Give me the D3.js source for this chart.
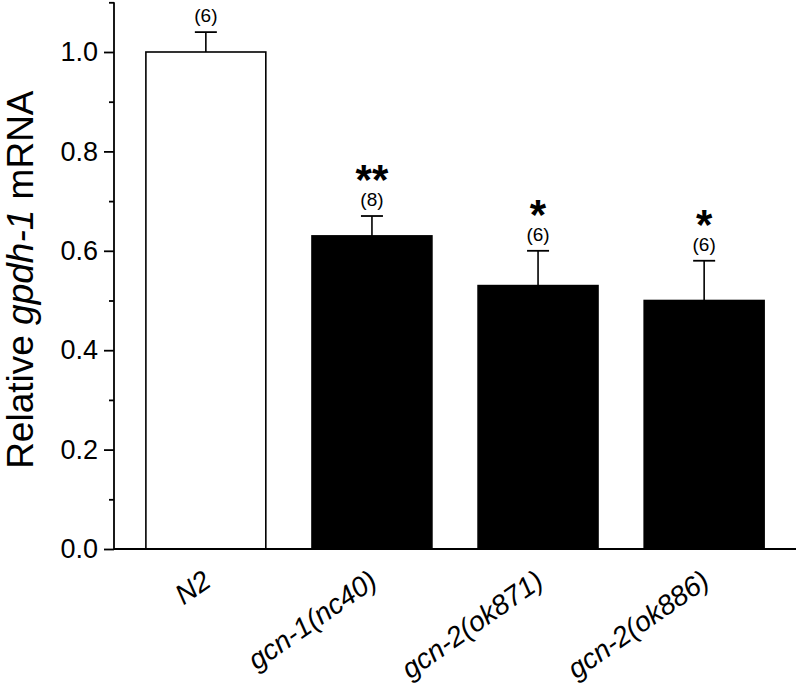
<!DOCTYPE html>
<html>
<head>
<meta charset="utf-8">
<script src="https://cdn.jsdelivr.net/npm/d3@7"></script>
<style>
  html, body { margin: 0; padding: 0; background: #fff; }
  svg { display: block; font-family: "Liberation Sans", Arial, sans-serif; }
</style>
</head>
<body>
<svg id="chart" width="799" height="684"></svg>
<script>
// ---- data ----
const categories = ["N2", "gcn-1(nc40)", "gcn-2(ok871)", "gcn-2(ok886)"];
const values = [1.00, 0.63, 0.53, 0.50];
const errors = [0.04, 0.04, 0.07, 0.08];
const nLabels = ["(6)", "(8)", "(6)", "(6)"];
const stars = ["", "**", "*", "*"];
const fills = ["#ffffff", "#000000", "#000000", "#000000"];
const majorTicks = [0.0, 0.2, 0.4, 0.6, 0.8, 1.0];
const minorTicks = [0.1, 0.3, 0.5, 0.7, 0.9, 1.1];

const svg = d3.select("#chart");
const y = d3.scaleLinear().domain([0, 1.1]).range([549, 2.3]);
const x = d3.scaleBand().domain(categories).range([114, 796])
  .paddingInner(0.278).paddingOuter(0.192);

// bars
svg.selectAll("rect.bar").data(categories).join("rect")
  .attr("class", "bar")
  .attr("x", d => x(d))
  .attr("y", (d, i) => y(values[i]))
  .attr("width", x.bandwidth())
  .attr("height", (d, i) => y(0) - y(values[i]))
  .attr("fill", (d, i) => fills[i])
  .attr("stroke", "#000").attr("stroke-width", 1.6);

// error bars (upper only)
const capW = 22;
categories.forEach((c, i) => {
  const cx = x(c) + x.bandwidth() / 2;
  const top = y(values[i] + errors[i]);
  svg.append("line").attr("x1", cx).attr("x2", cx)
    .attr("y1", y(values[i])).attr("y2", top)
    .attr("stroke", "#000").attr("stroke-width", 1.6);
  svg.append("line").attr("x1", cx - capW / 2).attr("x2", cx + capW / 2)
    .attr("y1", top).attr("y2", top)
    .attr("stroke", "#000").attr("stroke-width", 1.8);
  svg.append("text").attr("x", cx).attr("y", top - 10)
    .attr("text-anchor", "middle").attr("font-size", 19).text(nLabels[i]);
  if (stars[i]) {
    svg.append("text").attr("x", cx).attr("y", top - 22)
      .attr("text-anchor", "middle").attr("font-size", 42).attr("font-weight", "bold")
      .text(stars[i]);
  }
});

// y axis
const yAxis = d3.axisLeft(y).tickValues(majorTicks).tickSize(10).tickPadding(6)
  .tickFormat(d3.format(".1f"));
const gy = svg.append("g").attr("transform", "translate(114,0)").call(yAxis);
gy.select(".domain").attr("stroke-width", 1.8).attr("d", `M0,${y(1.1)}V${y(0)}`);
gy.selectAll(".tick line").attr("stroke-width", 1.8);
gy.selectAll(".tick text").attr("font-size", 27).attr("font-family", "Liberation Sans, Arial, sans-serif").attr("fill", "#000");
const gyMinor = svg.append("g").attr("transform", "translate(114,0)")
  .call(d3.axisLeft(y).tickValues(minorTicks).tickSize(5).tickFormat(""));
gyMinor.select(".domain").remove();
gyMinor.selectAll(".tick line").attr("stroke-width", 1.8);

// x axis
const gx = svg.append("g").attr("transform", `translate(0,${y(0)})`)
  .call(d3.axisBottom(x).tickSize(0).tickFormat(""));
gx.select(".domain").attr("stroke-width", 1.8).attr("d", "M114,0H796");

// x labels (rotated, italic)
categories.forEach((c) => {
  const cx = x(c) + x.bandwidth() / 2;
  svg.append("text")
    .attr("transform", `translate(${cx + 7},585) rotate(-35)`)
    .attr("text-anchor", "end").attr("font-size", 28).attr("font-style", "italic")
    .text(c);
});

// y title
const yt = svg.append("text")
  .attr("transform", `translate(33,${(y(0) + y(1.1)) / 2 + 4}) rotate(-90)`)
  .attr("text-anchor", "middle").attr("font-size", 37);
yt.append("tspan").text("Relative ");
yt.append("tspan").attr("font-style", "italic").text("gpdh-1");
yt.append("tspan").text(" mRNA");
</script>
</body>
</html>
